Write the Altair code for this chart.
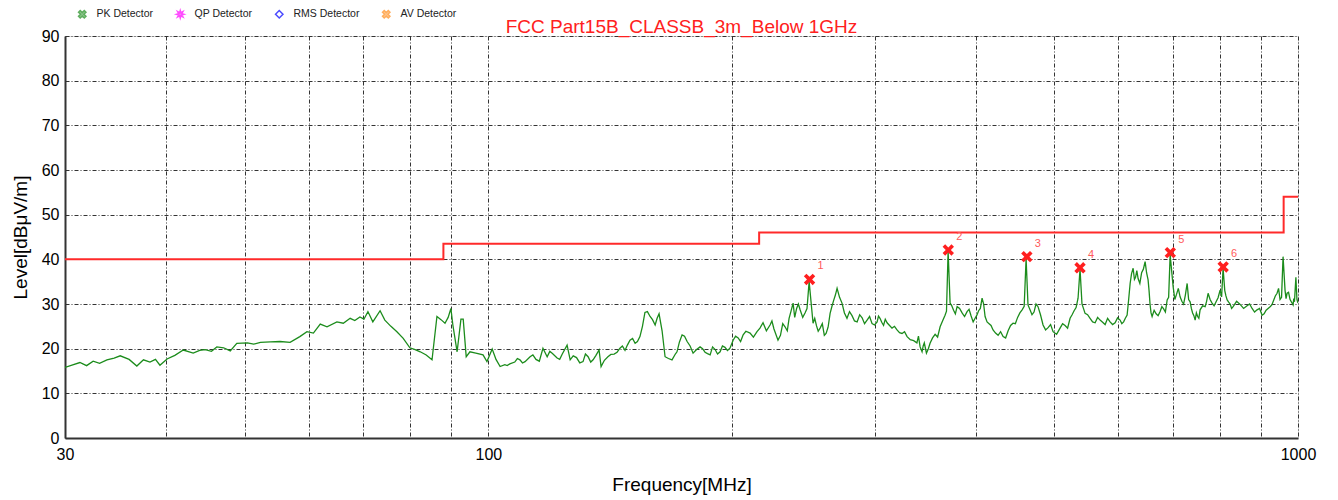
import altair as alt
import pandas as pd

FONT = "Liberation Sans"

# ---- data ----
trace_freq = [30.0, 30.6, 31.3, 31.9, 32.5, 33.1, 33.8, 34.5, 35.1, 36.0, 36.8, 37.5, 38.2, 38.8, 39.3,
              40.1, 41.0, 42.0, 43.2, 44.0, 44.7, 45.5, 46.2, 47.1, 48.0, 48.9, 50.4, 51.3, 52.3, 53.8,
              55.3, 56.9, 58.5, 59.7, 60.8, 62.0, 63.2, 65.0, 66.2, 67.5, 68.4, 69.4, 70.2, 71.0, 72.0,
              73.5, 74.5, 75.8, 77.1, 78.5, 80.0, 81.2, 82.4, 83.8, 85.2, 86.4, 87.4, 88.4, 89.2, 89.9,
              90.4, 91.5, 92.5, 93.1, 93.9, 94.9, 96.5, 98.5, 99.6, 101.1, 103.4, 104.8, 106.3, 107.8,
              109.4, 111.0, 112.6, 114.5, 116.8, 118.2, 120.0, 121.6, 123.4, 125.1, 126.2, 128.5, 130.9,
              132.8, 134.7, 137.0, 137.8, 140.5, 143.0, 145.4, 147.5, 149.6, 151.8, 153.9, 156.1, 158.4,
              160.7, 162.5, 165.3, 168.6, 171.0, 173.5, 176.0, 179.0, 182.6, 185.2, 187.9, 190.6, 193.3,
              196.0, 198.8, 200.6, 203.5, 206.4, 210.5, 214.7, 218.4, 222.8, 225.3, 227.9, 232.5, 235.2,
              237.9, 240.3, 242.7, 246.1, 249.0, 251.8, 254.3, 256.9, 261.3, 264.3, 267.0, 269.6, 273.4,
              277.3, 281.3, 285.4, 289.5, 293.6, 297.8, 302.1, 304.6, 307.7, 310.8, 315.2, 319.7, 324.3,
              329.0, 335.2, 341.4, 343.3, 345.5, 347.6, 351.2, 356.3, 361.4, 366.5, 369.7, 371.8, 375.5,
              379.3, 384.7, 390.2, 394.7, 399.2, 403.2, 407.2, 410.7, 415.4, 420.1, 426.2, 432.3, 438.5,
              444.7, 450.5, 456.3, 461.5, 466.7, 472.0, 477.4, 484.3, 491.3, 498.3, 508.3, 515.6, 523.0,
              529.0, 535.0, 538.0, 541.0, 545.8, 553.6, 561.6, 569.6, 577.8, 586.0, 594.4, 602.9, 609.0,
              615.1, 620.4, 625.7, 630.1, 634.6, 641.0, 647.4, 652.9, 656.5, 660.4, 668.0, 675.6, 682.4,
              689.3, 695.2, 701.1, 708.0, 715.1, 722.3, 729.6, 735.8, 741.0, 746.4, 751.7, 757.0, 767.9,
              774.4, 783.2, 792.2, 801.3, 808.1, 812.0, 817.5, 824.5, 831.5, 848.2, 865.2, 877.6, 890.1,
              902.9, 913.3, 923.7, 932.9, 942.2, 950.2, 958.4, 963.9, 969.4, 977.7, 986.1, 990.0, 994.0,
              997.0, 1000.0]
trace_level = [15.8, 16.3, 16.9, 16.2, 17.2, 16.7, 17.5, 17.9, 18.4, 17.6, 16.1, 17.5, 17.0, 17.6, 16.3,
               17.7, 18.5, 19.7, 19.0, 19.6, 19.8, 19.4, 20.4, 20.2, 19.5, 21.2, 21.3, 21.0, 21.4, 21.5,
               21.6, 21.4, 22.7, 23.8, 23.5, 25.5, 24.9, 26.0, 25.7, 26.8, 26.3, 27.1, 26.6, 28.3, 26.0,
               28.5, 26.4, 25.0, 23.8, 22.3, 20.2, 19.8, 19.3, 18.6, 17.5, 27.2, 26.5, 25.7, 27.0, 29.0,
               25.3, 19.3, 26.6, 26.6, 18.2, 19.3, 19.0, 18.6, 17.1, 19.9, 16.0, 16.4, 16.6, 17.0,
               17.5, 17.1, 18.2, 17.6, 20.1, 18.2, 18.9, 17.9, 18.8, 20.8, 17.5, 18.0, 17.1,
               18.2, 17.5, 19.7, 16.0, 18.2, 18.8, 20.1, 19.6, 21.9, 21.2, 22.7, 28.1, 27.2,
               25.3, 27.8, 18.2, 17.5, 19.3, 23.1, 21.6, 19.0, 20.4, 19.2, 18.6, 19.8, 19.3,
               20.3, 20.1, 21.9, 22.4, 23.1, 23.5, 23.8, 25.8, 25.3, 24.4, 21.9, 24.9, 26.8,
               30.2, 29.0, 28.7, 28.0, 35.0, 25.7, 25.1, 24.6, 23.4, 27.9, 30.8, 33.5, 30.2,
               26.8, 27.4, 26.0, 26.9, 26.4, 25.6, 26.0, 26.8, 25.2, 25.8, 24.6, 24.2, 23.4,
               22.7, 21.8, 20.4, 19.3, 21.3, 19.0, 21.2, 23.2, 24.9, 27.5, 41.8, 30.2, 28.6,
               29.4, 28.0, 28.3, 27.3, 26.8, 28.5, 31.3, 27.2, 25.6, 24.2, 23.0, 22.7, 24.0,
               25.7, 27.0, 28.7, 40.2, 28.7, 28.2, 29.4, 25.3, 24.7, 23.8, 24.6, 25.2, 26.8,
               28.5, 31.3, 37.8, 30.0, 27.9, 26.8, 25.8, 26.4, 25.4, 26.0, 25.8, 26.4, 26.0,
               27.5, 34.6, 38.0, 36.0, 35.7, 37.0, 39.5, 35.4, 30.0, 27.2, 27.8, 28.3, 28.9,
               30.9, 41.0, 33.9, 32.2, 31.6, 30.0, 34.6, 30.5, 28.0, 26.4, 27.2, 28.7, 29.4,
               32.4, 30.2, 30.5, 33.1, 38.0, 33.0, 30.9, 30.0, 29.4, 29.9, 29.6, 29.0, 28.7,
               27.5, 28.6, 29.4, 30.8, 32.4, 31.0, 40.6, 33.0, 32.4, 31.0, 29.8, 30.5, 36.0,
               31.0, 30.2]

# additional hand-read points of the noisy band (merged with the above, sorted by frequency)
noise_freq = [102.2, 105.5, 108.6, 110.2, 113.5, 115.6, 119.1, 122.5, 127.3, 129.7, 131.8, 133.8, 135.8,
              139.1, 141.7, 144.2, 146.4, 148.5, 150.7, 152.8, 155.0, 157.2, 159.5, 161.6, 163.9, 166.9,
              170.2, 172.2, 174.7, 177.5, 180.8, 183.9, 186.5, 189.2, 191.9, 194.6, 197.4,
              202.0, 204.9, 208.0, 212.5, 216.5, 220.5, 224.0, 229.5, 231.0, 234.0, 236.5, 239.0, 241.5,
              244.5, 247.5, 253.0, 255.5, 258.5, 260.0, 262.8, 265.7, 268.3, 271.5, 275.3, 279.3, 283.3,
              287.5, 291.5, 295.7, 299.9, 303.3, 306.1, 309.2, 313.0, 317.4, 322.0, 326.6, 332.0, 338.3,
              339.8, 344.4, 349.5, 353.7, 358.8, 363.9, 368.0, 373.6, 377.4, 382.0, 387.4, 392.4, 397.0,
              401.2, 405.2, 409.0, 413.0, 417.7, 423.1, 429.2, 435.4, 441.6, 447.6, 453.4, 459.0, 464.0,
              469.3, 474.7, 480.8, 487.8, 494.8, 503.3, 512.0, 519.3, 526.0, 532.0, 549.7, 557.6, 565.6,
              573.7, 581.9, 590.2, 598.6, 605.9, 612.0, 617.8, 622.9, 628.0, 632.3, 637.8, 644.2, 650.1,
              654.7, 658.4, 664.2, 671.8, 679.0, 685.8, 692.2, 704.5, 711.5, 718.7, 725.9, 732.7, 738.4,
              743.7, 749.0, 754.3, 762.4, 771.1, 778.8, 787.7, 796.7, 804.7, 814.7, 821.0, 828.0, 839.8,
              856.7, 871.4, 883.8, 896.5, 908.1, 918.5, 928.3, 937.5, 946.2, 954.3, 966.6, 973.5, 981.9,
              988.0]
noise_level = [17.6, 16.2, 17.8, 16.8, 18.6, 17.2, 19.4, 17.6, 18.4, 16.8, 18.8, 17.0, 18.5,
               17.4, 18.7, 19.2, 20.6, 20.8, 22.3, 21.6, 25.0, 28.3, 26.5, 26.8, 24.0, 17.8,
               18.8, 21.5, 22.8, 20.6, 19.8, 20.0, 18.9, 20.4, 18.8, 20.6, 19.6,
               22.8, 21.6, 23.9, 22.6, 24.6, 24.0, 26.2, 23.0, 25.6, 24.0, 28.4, 27.0, 30.0,
               27.0, 29.0, 26.8, 23.9, 25.6, 23.0, 24.8, 29.5, 32.0, 31.5, 28.0, 28.3, 26.2,
               27.6, 25.6, 27.2, 25.3, 27.3, 25.9, 26.6, 25.2, 25.0, 23.6, 23.8, 22.0, 21.3,
               22.8, 20.6, 20.0, 22.4, 22.6, 26.2, 28.4, 29.6, 27.8, 29.0, 27.2, 28.8, 26.0,
               27.5, 29.0, 30.0, 26.0, 25.2, 23.5, 23.8, 22.4, 25.2, 25.6, 28.0, 29.5, 29.8,
               27.6, 30.0, 27.6, 24.2, 25.4, 23.2, 25.6, 24.6, 27.6, 29.2, 27.6, 26.0, 27.0,
               25.9, 26.8, 25.4, 26.9, 25.6, 26.8, 31.0, 36.8, 35.5, 37.5, 34.6, 37.8, 37.0,
               33.0, 28.0, 28.6, 27.4, 29.4, 28.2, 31.5, 31.0, 33.5, 30.6, 32.0, 31.0, 29.0,
               27.4, 28.0, 26.8, 29.6, 30.6, 31.0, 29.6, 31.4, 31.6, 31.8, 30.4, 29.0, 30.6,
               29.0, 30.0, 28.2, 29.0, 27.8, 29.0, 29.8, 31.8, 33.5, 31.5, 31.2, 32.6, 30.4,
               31.2]

limit_freq = [30, 88, 216, 960, 1000]
limit_level = [40, 43.5, 46, 54, 54]

marker_freq = [249.3, 369.9, 462.5, 538.0, 695.5, 808.3]
marker_level = [35.5, 42.1, 40.6, 38.1, 41.5, 38.3]
marker_label = ["1", "2", "3", "4", "5", "6"]

legend_names = ["PK Detector", "QP Detector", "RMS Detector", "AV Detector"]
x_grid = [30, 40, 50, 60, 70, 80, 90, 100, 200, 300, 400, 500, 600, 700, 800, 900, 1000]
y_ticks = list(range(0, 91, 10))

trace_df = pd.concat([
    pd.DataFrame({"freq": trace_freq, "level": trace_level}),
    pd.DataFrame({"freq": noise_freq, "level": noise_level}),
]).sort_values("freq").reset_index(drop=True)
limit_df = pd.DataFrame({"freq": limit_freq, "level": limit_level})
marker_df = pd.DataFrame({"freq": marker_freq, "level": marker_level, "label": marker_label})
legend_df = pd.DataFrame({"det": legend_names})

X_PATH = "M-1,-0.55L-0.55,-1L0,-0.45L0.55,-1L1,-0.55L0.45,0L1,0.55L0.55,1L0,0.45L-0.55,1L-1,0.55L-0.45,0Z"
STAR_PATH = ("M1,0L0.416,0.172L0.707,0.707L0.172,0.416L0,1L-0.172,0.416L-0.707,0.707L-0.416,0.172"
             "L-1,0L-0.416,-0.172L-0.707,-0.707L-0.172,-0.416L0,-1L0.172,-0.416L0.707,-0.707L0.416,-0.172Z")

xscale = alt.Scale(type="log", domain=[30, 1000], nice=False)
yscale = alt.Scale(domain=[0, 90], nice=False, zero=False)

GRID_DASH = [4, 2, 1, 2]

xaxis = alt.Axis(
    values=x_grid, format="d", title="Frequency[MHz]",
    labelExpr="(datum.value == 30 || datum.value == 100 || datum.value == 1000) ? datum.label : ''",
    ticks=False, grid=True, gridDash=GRID_DASH, gridColor="#333333", gridWidth=1, gridOpacity=1,
    labelFontSize=16, labelFont=FONT, labelColor="#000000", labelPadding=8, labelFlush=False,
    labelOverlap=False,
    titleFontSize=19, titleFont=FONT, titleFontWeight="normal", titleColor="#000000", titlePadding=13,
    domainColor="#333333", domainWidth=2,
)
yaxis = alt.Axis(
    values=y_ticks, title="Level[dBμV/m]",
    ticks=False, grid=True, gridDash=GRID_DASH, gridColor="#333333", gridWidth=1, gridOpacity=1,
    labelFontSize=16, labelFont=FONT, labelColor="#000000", labelPadding=6,
    titleFontSize=19, titleFont=FONT, titleFontWeight="normal", titleColor="#000000", titlePadding=11,
    domainColor="#333333", domainWidth=2,
)

base_x = alt.X("freq:Q", scale=xscale, axis=xaxis)
base_y = alt.Y("level:Q", scale=yscale, axis=yaxis)

trace = alt.Chart(trace_df).mark_line(color="#1c8c1c", strokeWidth=1.3, clip=True).encode(
    x=base_x, y=base_y, order="freq:Q"
)
limit = alt.Chart(limit_df).mark_line(color="#ff2a2a", strokeWidth=2, interpolate="step-after", clip=True).encode(
    x=alt.X("freq:Q", scale=xscale), y=alt.Y("level:Q", scale=yscale)
)
markers = alt.Chart(marker_df).mark_point(shape=X_PATH, filled=True, fill="#ff1f1f", size=130, opacity=1).encode(
    x=alt.X("freq:Q", scale=xscale), y=alt.Y("level:Q", scale=yscale)
)
marker_text = alt.Chart(marker_df).mark_text(
    dx=11, dy=-13, color="#ff5a5a", fontSize=11, font=FONT
).encode(x=alt.X("freq:Q", scale=xscale), y=alt.Y("level:Q", scale=yscale), text="label:N")

leg = alt.Legend(
    orient="none", legendX=12, legendY=-27, direction="horizontal", title=None,
    labelFontSize=10.5, labelFont=FONT, labelColor="#222222", symbolSize=55,
    columnPadding=19, labelOffset=9, padding=0, symbolStrokeWidth=1.5,
)
legend_layer = alt.Chart(legend_df).transform_filter("false").mark_point(filled=True, strokeWidth=1.5).encode(
    x=alt.X("freq:Q", scale=xscale),
    y=alt.Y("level:Q", scale=yscale),
    shape=alt.Shape("det:N", scale=alt.Scale(domain=legend_names, range=[X_PATH, STAR_PATH, "diamond", X_PATH]), legend=leg),
    fill=alt.Fill("det:N", scale=alt.Scale(domain=legend_names, range=["#1c8c1c", "#ff00ff", "#ffffff", "#ff8c1a"]), legend=leg),
    stroke=alt.Stroke("det:N", scale=alt.Scale(domain=legend_names, range=["#1c8c1c", "#ff00ff", "#0000ff", "#ff8c1a"]), legend=leg),
)

chart = alt.layer(trace, limit, markers, marker_text, legend_layer).properties(
    width=1233, height=402,
    title=alt.TitleParams("FCC Part15B_CLASSB_3m_Below 1GHz", color="#ff2020", fontSize=19, font=FONT,
                          fontWeight="normal", anchor="middle", offset=3, dy=31),
    autosize=alt.AutoSizeParams(type="none"),
    padding={"left": 57, "top": 28, "right": 20, "bottom": 58},
).configure_view(stroke="#333333", strokeWidth=1.5).configure(background="white")

chart.save("out.html", embed_options={"renderer": "svg", "actions": False})
